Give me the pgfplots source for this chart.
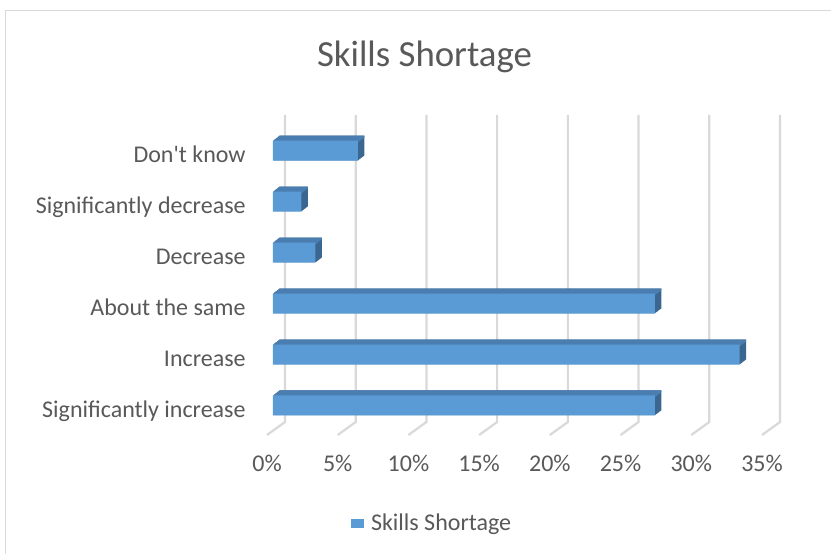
\documentclass[border=0pt]{standalone}
\usepackage{pgfplots}
\pgfplotsset{compat=1.18}
\usepackage{pgfplotstable}
\usepackage{fontspec}
\setmainfont{Carlito}[Ligatures=TeXOff]
\definecolor{barblue}{HTML}{5B9BD5}
\definecolor{bartop}{HTML}{4A7DB0}
\definecolor{barside}{HTML}{3A6690}
\definecolor{gridgray}{HTML}{D9D9D9}
\definecolor{txt}{HTML}{595959}
\pgfplotstableread{
y v
0 27
1 33
2 27
3 3
4 2
5 6
}\skills
\begin{document}
\begin{tikzpicture}
\path[use as bounding box] (0,0) rectangle (415.5pt,276.5pt);
\fill[white] (0,0) rectangle (415.5pt,276.5pt);
\draw[gridgray, line width=0.6pt] (2.75pt,-1pt) -- (2.75pt,271.25pt) -- (416pt,271.25pt);
\node[anchor=base, font=\fontsize{18.4}{21}\selectfont, text=txt, inner sep=0pt] at (212.25pt,243.5pt) {Skills Shortage};
\begin{axis}[
  at={(136.5pt,59pt)}, anchor=south west,
  scale only axis, width=247.5pt, height=160pt,
  xmin=0, xmax=35, ymin=-0.579, ymax=5.70,
  clip=false,
  axis line style={draw=none},
  major tick length=0pt,
  xtick={0,5,...,35},
  xticklabels={0\%,5\%,10\%,15\%,20\%,25\%,30\%,35\%},
  ytick={0,1,2,3,4,5},
  yticklabels={Significantly increase,Increase,About the same,Decrease,Significantly decrease,Don't know},
  tick label style={font=\fontsize{12}{14}\selectfont, text=txt, inner sep=0pt},
  xticklabel style={anchor=base, xshift=-3pt, yshift=-18pt},
  yticklabel style={anchor=base east, xshift=-13.5pt, yshift=-6pt},
  xbar, bar width=10pt,
  legend style={at={(axis description cs:0.1576,-0.277)}, anchor=west, draw=none, fill=none,
    inner sep=0pt, font=\fontsize{12}{14}\selectfont, text=txt, column sep=3.5pt,
    nodes={inner sep=0pt}},
  legend cell align=left,
  legend image code/.code={\fill[barblue] (0pt,-2.4pt) rectangle (6.3pt,2.4pt);},
]
\pgfplotsinvokeforeach{0,5,10,15,20,25,30,35}{
  \draw[gridgray, line width=1.1pt] ([xshift=6pt]axis cs:#1,5.70) -- ([xshift=6pt,yshift=6.5pt]axis cs:#1,-0.579) -- ([xshift=-3pt]axis cs:#1,-0.579);
}
\pgfplotsinvokeforeach{1,...,12}{
  \addplot[forget plot, draw=none, fill=barside, xshift=#1*0.27083pt, yshift=#1*0.20833pt] table[x=v,y=y]{\skills};
}
\pgfplotsinvokeforeach{1,...,12}{
  \addplot[forget plot, draw=none, fill=bartop, bar width=1pt, bar shift=4.5pt, xshift=#1*0.27083pt, yshift=#1*0.20833pt] table[x=v,y=y]{\skills};
}
\addplot[draw=none, fill=barblue] table[x=v,y=y]{\skills};
\addlegendentry{Skills Shortage}
\end{axis}
\end{tikzpicture}
\end{document}
